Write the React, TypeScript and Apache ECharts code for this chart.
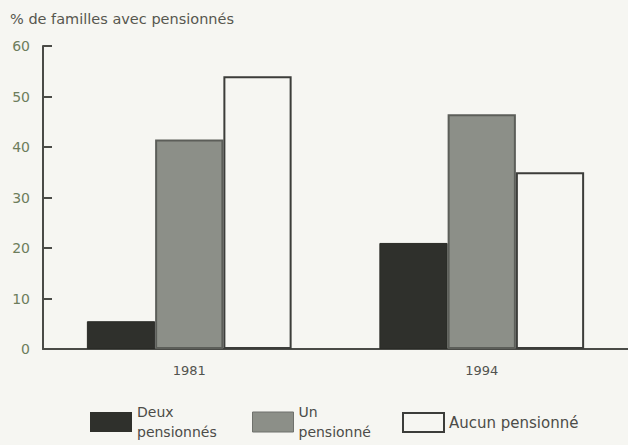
import React, { useEffect, useRef } from "react";
import * as echarts from "echarts";

const categories = ["1981", "1994"];
const seriesNames = ["Deux pensionnés", "Un pensionné", "Aucun pensionné"];
const legendLabels = ["Deux\npensionnés", "Un\npensionné", "Aucun pensionné"];
const deuxValues = [5.5, 21];
const unValues = [41.5, 46.5];
const aucunValues = [54, 35];
const yTicks = [0, 10, 20, 30, 40, 50, 60];

const FONT = "DejaVu Sans, Liberation Sans, Arial, sans-serif";
const BG = "#f6f6f2";

export default function App() {
  const ref = useRef<HTMLDivElement>(null);
  useEffect(() => {
    if (!ref.current) return;
    const chart = echarts.init(ref.current, undefined, { renderer: "svg" });
    const legendText = (size: number) => ({
      fontSize: size,
      color: "#4c4c48",
      fontFamily: FONT,
      lineHeight: 20,
    });
    chart.setOption({
      animation: false,
      backgroundColor: BG,
      textStyle: { fontFamily: FONT },
      title: {
        text: "% de familles avec pensionnés",
        left: 10,
        top: 11,
        padding: 0,
        textStyle: { fontSize: 14.5, fontWeight: "normal", color: "#56574f", fontFamily: FONT },
      },
      grid: { left: 43, top: 46, width: 592, height: 303, containLabel: false },
      legend: [
        {
          left: 90,
          top: 402,
          padding: 0,
          itemWidth: 42,
          itemHeight: 20,
          icon: "rect",
          data: [seriesNames[0]],
          formatter: () => legendLabels[0],
          itemStyle: { color: "#2f302c", borderWidth: 0 },
          textStyle: legendText(14),
        },
        {
          left: 252,
          top: 402,
          padding: 0,
          itemWidth: 41,
          itemHeight: 20,
          icon: "rect",
          data: [seriesNames[1]],
          formatter: () => legendLabels[1],
          itemStyle: { color: "#8c8f88", borderColor: "#6f716c", borderWidth: 1 },
          textStyle: legendText(14),
        },
        {
          left: 402,
          top: 412,
          padding: 0,
          itemWidth: 41,
          itemHeight: 19,
          icon: "rect",
          data: [seriesNames[2]],
          formatter: () => legendLabels[2],
          itemStyle: { color: BG, borderColor: "#3c3d3a", borderWidth: 2 },
          textStyle: legendText(15),
        },
      ],
      xAxis: {
        type: "category",
        data: categories,
        axisLine: { lineStyle: { color: "#4a4b47", width: 2 } },
        axisTick: { show: false },
        axisLabel: { fontSize: 13, color: "#52534e", margin: 15, fontFamily: FONT },
      },
      yAxis: {
        type: "value",
        min: yTicks[0],
        max: yTicks[yTicks.length - 1],
        interval: 10,
        splitLine: { show: false },
        axisLine: { show: true, lineStyle: { color: "#4a4b47", width: 2 } },
        axisTick: { show: true, inside: true, length: 9, lineStyle: { color: "#4a4b47", width: 2 } },
        axisLabel: { fontSize: 14, color: "#6d7d5c", margin: 13, fontFamily: FONT },
      },
      series: [
        {
          name: seriesNames[0],
          type: "bar",
          data: deuxValues,
          barGap: "0%",
          barCategoryGap: "30%",
          itemStyle: { color: "#2f302c", borderColor: "#2a2b27", borderWidth: 1 },
        },
        {
          name: seriesNames[1],
          type: "bar",
          data: unValues,
          itemStyle: { color: "#8c8f88", borderColor: "#5c5e59", borderWidth: 2 },
        },
        {
          name: seriesNames[2],
          type: "bar",
          data: aucunValues,
          itemStyle: { color: BG, borderColor: "#3c3d3a", borderWidth: 2 },
        },
      ],
    });
    return () => chart.dispose();
  }, []);
  return (
    <div
      ref={ref}
      style={{ position: "fixed", left: 0, top: 0, width: 628, height: 445 }}
    />
  );
}
